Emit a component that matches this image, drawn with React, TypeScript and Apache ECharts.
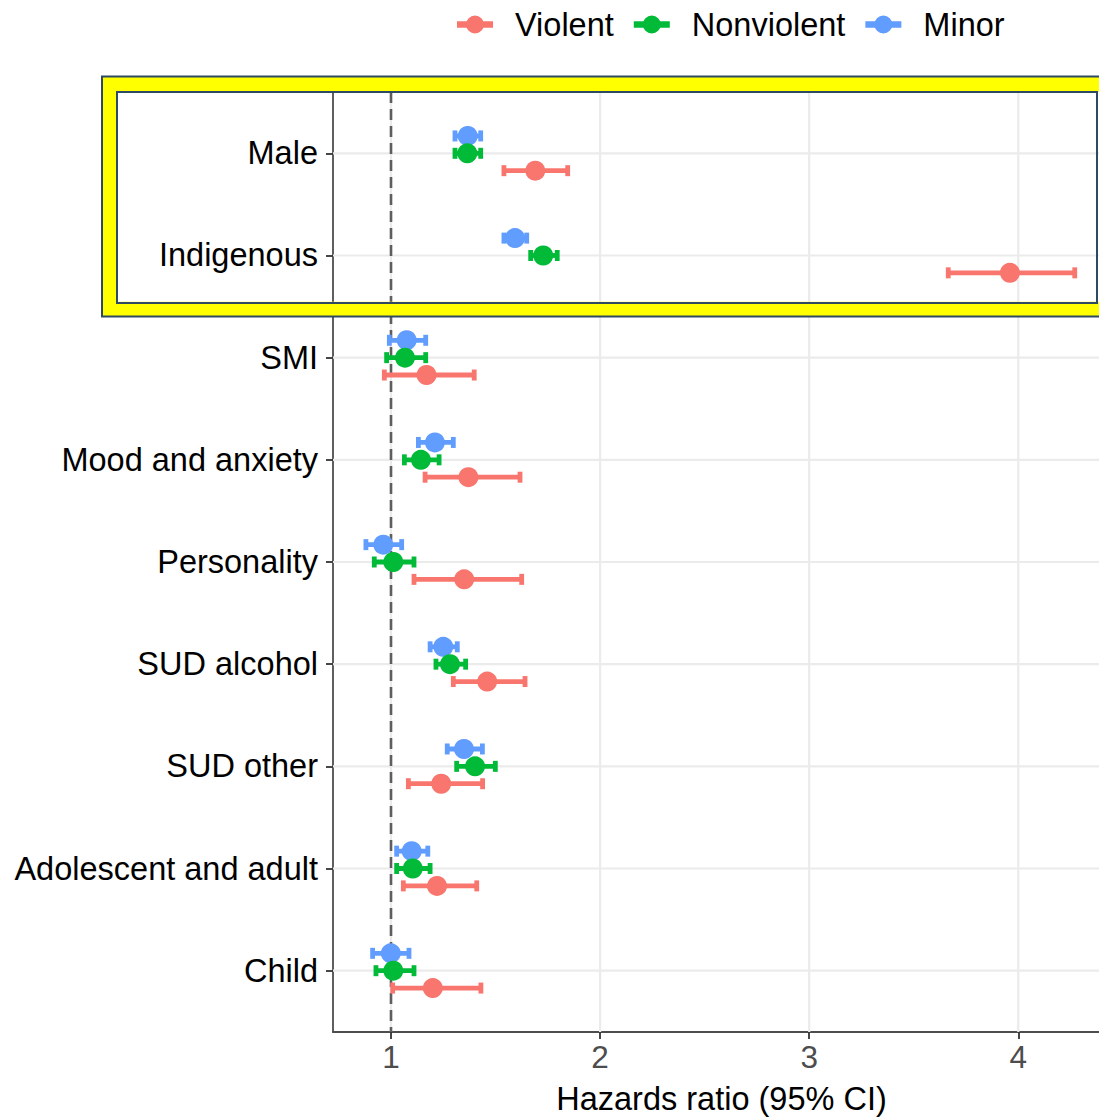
import React, { useEffect, useRef } from "react";
import * as echarts from "echarts";

const categories = [
  "Male",
  "Indigenous",
  "SMI",
  "Mood and anxiety",
  "Personality",
  "SUD alcohol",
  "SUD other",
  "Adolescent and adult",
  "Child",
];
const groups = ["Violent", "Nonviolent", "Minor"];
const groupColors = ["#F8766D", "#00BA38", "#619CFF"];
const groupOffsets = [0.17, 0, -0.17];

const violentHR = [1.69, 3.96, 1.17, 1.37, 1.35, 1.46, 1.24, 1.22, 1.2];
const violentLo = [1.54, 3.665, 0.968, 1.163, 1.11, 1.298, 1.083, 1.059, 1.008];
const violentHi = [1.845, 4.27, 1.398, 1.617, 1.625, 1.641, 1.438, 1.41, 1.43];

const nonviolentHR = [1.365, 1.728, 1.067, 1.143, 1.011, 1.282, 1.402, 1.104, 1.011];
const nonviolentLo = [1.306, 1.668, 0.979, 1.064, 0.92, 1.215, 1.314, 1.027, 0.928];
const nonviolentHi = [1.429, 1.795, 1.166, 1.23, 1.11, 1.357, 1.499, 1.187, 1.11];

const minorHR = [1.367, 1.593, 1.075, 1.21, 0.963, 1.25, 1.349, 1.099, 0.999];
const minorLo = [1.306, 1.54, 0.992, 1.131, 0.88, 1.187, 1.269, 1.027, 0.912];
const minorHi = [1.429, 1.649, 1.166, 1.298, 1.051, 1.317, 1.437, 1.176, 1.086];

const xTicks = [1, 2, 3, 4];
const refValue = 1;
const xTitle = "Hazards ratio (95% CI)";

const FONT = "'Liberation Sans', Arial, Helvetica, sans-serif";
const DARK = "#2E4A62";
const GRID_COLOR = "#EBEBEB";

const hrByGroup = [violentHR, nonviolentHR, minorHR];
const loByGroup = [violentLo, nonviolentLo, minorLo];
const hiByGroup = [violentHi, nonviolentHi, minorHi];

const catPositions = categories.map((_, i) => i + 1);

const legendIcon =
  "path://M0,5.7 L36,5.7 L36,12.3 L0,12.3 Z M9,9 A9,9 0 1,1 27,9 A9,9 0 1,1 9,9 Z";

export default function App() {
  const ref = useRef<HTMLDivElement>(null);

  useEffect(() => {
    if (!ref.current) return;
    const chart = echarts.init(ref.current, undefined, { renderer: "svg" });

    const errorSeries = groups.map((g, gi) => ({
      name: g,
      type: "custom",
      z: 3,
      silent: true,
      itemStyle: { color: groupColors[gi] },
      encode: { x: [0, 1], y: 2 },
      data: categories.map((_, i) => [
        loByGroup[gi][i],
        hiByGroup[gi][i],
        i + 1 + groupOffsets[gi],
      ]),
      renderItem: (params: any, api: any) => {
        const lo = api.coord([api.value(0), api.value(2)]);
        const hi = api.coord([api.value(1), api.value(2)]);
        const st = { stroke: groupColors[gi], lineWidth: 4.8 };
        const h = 5.5;
        return {
          type: "group",
          children: [
            { type: "line", shape: { x1: lo[0], y1: lo[1], x2: hi[0], y2: hi[1] }, style: st },
            { type: "line", shape: { x1: lo[0], y1: lo[1] - h, x2: lo[0], y2: lo[1] + h }, style: st },
            { type: "line", shape: { x1: hi[0], y1: hi[1] - h, x2: hi[0], y2: hi[1] + h }, style: st },
          ],
        };
      },
    }));

    const pointOrder = [2, 1, 0];
    const pointSeries = pointOrder.map((gi) => ({
      name: groups[gi],
      type: "scatter",
      z: 4,
      symbol: "circle",
      symbolSize: 20,
      itemStyle: { color: groupColors[gi], opacity: 1 },
      data: categories.map((_, i) => [hrByGroup[gi][i], i + 1 + groupOffsets[gi]]),
    }));

    const gridXSeries = {
      type: "custom",
      z: 1,
      silent: true,
      data: xTicks.map((v) => [v, 1]),
      renderItem: (params: any, api: any) => {
        const p = api.coord([api.value(0), api.value(1)]);
        const cs = params.coordSys;
        return {
          type: "line",
          shape: { x1: p[0], y1: cs.y, x2: p[0], y2: cs.y + cs.height },
          style: { stroke: GRID_COLOR, lineWidth: 2.2 },
        };
      },
    };
    const gridYSeries = {
      type: "custom",
      z: 1,
      silent: true,
      data: catPositions.map((v) => [1, v]),
      renderItem: (params: any, api: any) => {
        const p = api.coord([api.value(0), api.value(1)]);
        const cs = params.coordSys;
        return {
          type: "line",
          shape: { x1: cs.x, y1: p[1], x2: cs.x + cs.width, y2: p[1] },
          style: { stroke: GRID_COLOR, lineWidth: 2.2 },
        };
      },
    };
    const refSeries = {
      type: "custom",
      z: 2,
      silent: true,
      data: [[refValue, 1]],
      renderItem: (params: any, api: any) => {
        const p = api.coord([api.value(0), api.value(1)]);
        const cs = params.coordSys;
        return {
          type: "line",
          shape: { x1: p[0], y1: cs.y, x2: p[0], y2: cs.y + cs.height },
          style: { stroke: "#5e5e5e", lineWidth: 2.6, lineDash: [11, 6] },
        };
      },
    };

    chart.setOption({
      animation: false,
      backgroundColor: "#ffffff",
      textStyle: { fontFamily: FONT },
      legend: {
        top: 3,
        left: 452,
        itemWidth: 36,
        itemHeight: 18,
        itemGap: 20,
        data: groups.map((g) => ({ name: g, icon: legendIcon })),
        textStyle: {
          fontSize: 32.5,
          color: "#000",
          fontFamily: FONT,
          padding: [0, 0, 0, 17],
        },
      },
      grid: { left: 333, top: 92, right: 5, bottom: 85, containLabel: false },
      xAxis: {
        type: "value",
        min: 0.7226,
        max: 4.4386,
        name: xTitle,
        nameLocation: "middle",
        nameGap: 50,
        nameTextStyle: { fontSize: 32.5, color: "#000", fontFamily: FONT },
        axisLine: { show: true, lineStyle: { color: "#4d4d4d", width: 1.8 } },
        axisTick: { show: true, customValues: xTicks, length: 7, lineStyle: { color: "#333", width: 1.8 } },
        axisLabel: {
          customValues: xTicks,
          fontSize: 31.5,
          color: "#4d4d4d",
          margin: 9,
          fontFamily: FONT,
          formatter: (v: number) => String(v),
        },
        splitLine: { show: false },
      },
      yAxis: {
        type: "value",
        min: 0.4,
        max: 9.6,
        inverse: true,
        axisLine: { show: true, lineStyle: { color: "#4d4d4d", width: 1.8 } },
        axisTick: { show: true, customValues: catPositions, length: 7, lineStyle: { color: "#333", width: 1.8 } },
        axisLabel: {
          customValues: catPositions,
          fontSize: 32.5,
          color: "#000",
          margin: 15,
          padding: [3, 0, 0, 0],
          fontFamily: FONT,
          formatter: (v: number) => categories[Math.round(v) - 1] ?? "",
        },
        splitLine: { show: false },
      },
      graphic: [
        {
          type: "rect",
          z: 100,
          silent: true,
          shape: { x: 109.5, y: 84.25, width: 1100, height: 225 },
          style: { fill: "none", stroke: "#FFFF00", lineWidth: 15 },
        },
        {
          type: "rect",
          z: 101,
          silent: true,
          shape: { x: 102, y: 76.5, width: 1100, height: 240 },
          style: { fill: "none", stroke: DARK, lineWidth: 2 },
        },
        {
          type: "rect",
          z: 101,
          silent: true,
          shape: { x: 117, y: 92, width: 980, height: 211 },
          style: { fill: "none", stroke: DARK, lineWidth: 2 },
        },
      ],
      series: [gridXSeries, gridYSeries, refSeries, ...errorSeries, ...pointSeries],
    });

    return () => chart.dispose();
  }, []);

  return (
    <div
      style={{
        position: "absolute",
        left: 0,
        top: 0,
        width: 1099,
        height: 1120,
        overflow: "hidden",
        background: "#fff",
      }}
    >
      <div ref={ref} style={{ width: 1115, height: 1120 }} />
    </div>
  );
}
